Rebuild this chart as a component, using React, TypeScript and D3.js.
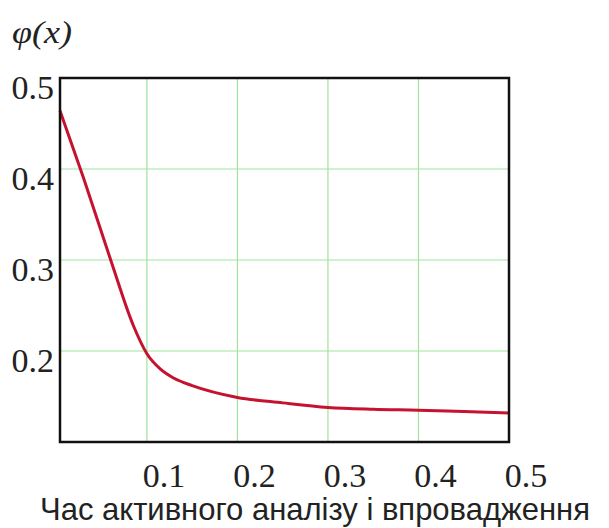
import React from "react";
import * as d3 from "d3";

// φ(x) curve samples
const xValues = [0.004, 0.03, 0.06, 0.085, 0.1, 0.115, 0.13, 0.15, 0.2, 0.25, 0.3, 0.35, 0.4, 0.45, 0.5];
const phiValues = [0.464, 0.39, 0.3, 0.228, 0.197, 0.18, 0.17, 0.162, 0.149, 0.143, 0.138, 0.136, 0.135, 0.1335, 0.132];

const xTicks = [0.1, 0.2, 0.3, 0.4, 0.5];
const yTicks = [0.2, 0.3, 0.4, 0.5];
const xTickLabels = ["0.1", "0.2", "0.3", "0.4", "0.5"];
const yTickLabels = ["0.2", "0.3", "0.4", "0.5"];

const yAxisTitle = "φ(x)";
const xAxisTitle = "Час активного аналізу і впровадження";

const W = 609;
const H = 528;
const plot = { left: 60, right: 509, top: 78, bottom: 442 };

export default function App() {
  const x = d3.scaleLinear().domain([0.004, 0.5]).range([plot.left, plot.right]);
  const y = d3.scaleLinear().domain([0.1, 0.5]).range([plot.bottom, plot.top]);

  const points = xValues.map((v, i) => [v, phiValues[i]] as [number, number]);
  const line = d3
    .line<[number, number]>()
    .x((d) => x(d[0]))
    .y((d) => y(d[1]))
    .curve(d3.curveMonotoneX);

  const serif = "'Liberation Serif', 'DejaVu Serif', serif";
  const sans = "'Liberation Sans', Arial, sans-serif";

  return (
    <svg
      width={W}
      height={H}
      style={{ position: "absolute", left: 0, top: 0, background: "#fff" }}
    >
      {/* grid */}
      {xTicks.slice(0, -1).map((t) => (
        <line key={"gx" + t} x1={x(t)} x2={x(t)} y1={plot.top} y2={plot.bottom} stroke="#9ee39e" strokeWidth={1.2} />
      ))}
      {yTicks.slice(0, -1).map((t) => (
        <line key={"gy" + t} x1={plot.left} x2={plot.right} y1={y(t)} y2={y(t)} stroke="#9ee39e" strokeWidth={1.2} />
      ))}

      {/* curve */}
      <path d={line(points) ?? ""} fill="none" stroke="#c4122f" strokeWidth={3} strokeLinejoin="round" />

      {/* frame */}
      <rect
        x={plot.left}
        y={plot.top}
        width={plot.right - plot.left}
        height={plot.bottom - plot.top}
        fill="none"
        stroke="#111"
        strokeWidth={2.5}
      />

      {/* y tick labels */}
      {yTicks.map((t, i) => (
        <text key={"yl" + t} x={54} y={y(t) + 21} textAnchor="end" fontFamily={serif} fontSize={34} fill="#222">
          {yTickLabels[i]}
        </text>
      ))}

      {/* x tick labels */}
      {xTicks.map((t, i) => (
        <text key={"xl" + t} x={x(t) + 17} y={487} textAnchor="middle" fontFamily={serif} fontSize={34} fill="#222">
          {xTickLabels[i]}
        </text>
      ))}

      {/* axis titles */}
      <text x={12} y={43} fontFamily={serif} fontStyle="italic" fontSize={32} fill="#222" textLength={60} lengthAdjust="spacingAndGlyphs">
        {yAxisTitle}
      </text>
      <text
        x={40}
        y={520}
        fontFamily={sans}
        fontSize={32}
        fill="#222"
        textLength={550}
        lengthAdjust="spacingAndGlyphs"
      >
        {xAxisTitle}
      </text>
    </svg>
  );
}
